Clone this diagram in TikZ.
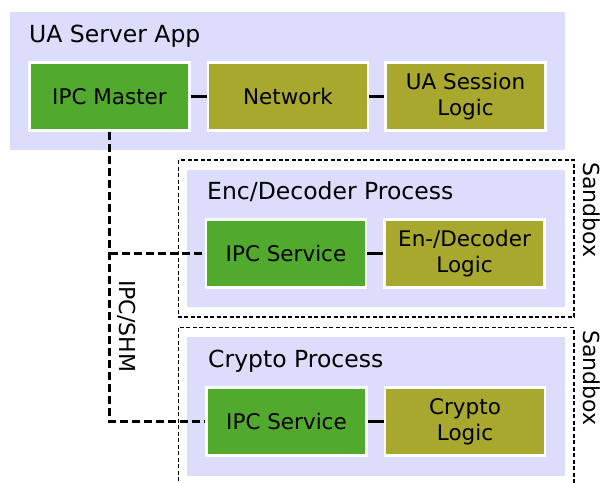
\documentclass[tikz,border=0pt]{standalone}
\usepackage{fontspec}
\setmainfont{DejaVu Sans}
\usetikzlibrary{calc}
\definecolor{ipcg}{RGB}{81, 170, 46}
\definecolor{olv}{RGB}{168, 168, 46}
\definecolor{lav}{RGB}{220, 220, 252}

\begin{document}
\begin{tikzpicture}[x=1pt, y=-1pt,
        box/.style={draw=white, line width=2.5pt, minimum width=160pt, minimum height=68pt, inner sep=0pt, align=center, font=\fontsize{21.5}{26}\selectfont},
        ipcbox/.style={box, fill=ipcg},
        logicbox/.style={box, fill=olv},
        title/.style={anchor=base west, inner sep=0pt, font=\fontsize{23.5}{28}\selectfont},
        side/.style={rotate=-90, anchor=base west, inner sep=0pt, font=\fontsize{22}{26}\selectfont},
        sandbox/.style={line width=1.6pt, dash pattern=on 4pt off 2.5pt},
        shm/.style={line width=2.4pt, dash pattern=on 8pt off 4pt},
        link/.style={line width=2.5pt}]
        \useasboundingbox (0,0) rectangle (601,482);
        \clip (0,0) rectangle (601,482);
        % process panels
        \fill[lav] (10,12) rectangle (565,150);
        \fill[lav] (187,170) rectangle (565,307);
        \fill[lav] (187,337) rectangle (565,476);
        % sandboxes
        \draw[sandbox] (178.5,160) rectangle (574,317);
        \draw[sandbox] (178.5,327.5) rectangle (574,500);
        \node[title] (srvt) at (29,42) {UA Server App};
        \node[title] (enct) at (207,199) {Enc/Decoder Process};
        \node[title] (cryt) at (208,367) {Crypto Process};
        \node[side] (sb1) at (583,162) {Sandbox};
        \node[side] (sb2) at (583,330) {Sandbox};
        \node[side] (shmt) at (119,280) {IPC/SHM};
        \node[ipcbox] (master) at (109.5,96.5) {IPC Master};
        \node[logicbox] (network) at (288,96.5) {Network};
        \node[logicbox] (session) at (465.5,96.5) {UA Session\\Logic};
        \node[ipcbox] (svca) at (286,253.5) {IPC Service};
        \node[logicbox] (codec) at (464.5,253.5) {En-/Decoder\\Logic};
        \node[ipcbox] (svcb) at (286.5,421.5) {IPC Service};
        \node[logicbox] (crypto) at (465,421.5) {Crypto\\Logic};
        \draw[link] (master.east) -- (network.west);
        \draw[link] (network.east) -- (session.west);
        \draw[link] (svca.east) -- (codec.west);
        \draw[link] (svcb.east) -- (crypto.west);
        % IPC/SHM channel
        \draw[shm] (master.south) |- (svcb.west);
        \draw[shm] (master.south |- svca.west) -- (svca.west);
    \end{tikzpicture}
\end{document}
